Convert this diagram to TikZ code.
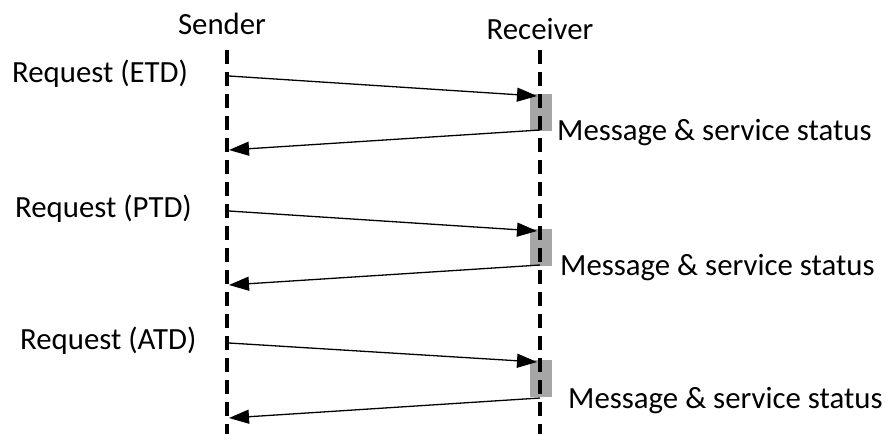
\documentclass[tikz,border=0pt]{standalone}
\usepackage{fontspec}
\setmainfont{Carlito}
\usetikzlibrary{arrows.meta}
\begin{document}
\begin{tikzpicture}[x=1pt,y=-1pt,
  lifeline/.style={line width=4pt,dash pattern=on 14pt off 8pt},
  msg/.style={line width=1.3pt,-{Triangle[length=20pt,width=14pt]}},
  act/.style={fill=black!35,draw=none},
  lbl/.style={font=\fontsize{30.8}{36}\selectfont,inner sep=0pt}]
\useasboundingbox (0,0) rectangle (885,434);
% lifelines
\coordinate (s0) at (227,50);  \coordinate (s1) at (227,434);
\coordinate (r0) at (540,50);  \coordinate (r1) at (540,434);
\node[lbl] (sender) at (222,24) {Sender};
\node[lbl] (receiver) at (540,29) {Receiver};
% activation boxes (behind the lifeline)
\foreach \i/\y in {1/94,2/229,3/360}{
  \node[act,minimum width=22pt,minimum height=37pt,anchor=north,inner sep=0pt] (box\i) at (541,\y) {};
}
\draw[lifeline] (s0) -- (s1);
\draw[lifeline] (r0) -- (r1);
% request / response pairs
\foreach \i/\a/\b/\c/\d/\tag/\lx/\mx/\my in {
  1/76/96/130/150/ETD/12/557/133,
  2/211/231/265/285/PTD/15/560/268,
  3/343/362/398/418/ATD/20/568/401}{
  \coordinate (rq\i) at (229,\a);
  \coordinate (rr\i) at (537,\b);
  \coordinate (ps\i) at (540,\c);
  \coordinate (pr\i) at (229,\d);
  \draw[msg] (rq\i) -- (rr\i);
  \draw[msg] (ps\i) -- (pr\i);
  \node[lbl,anchor=west] (req\i) at (\lx,\a-2) {Request (\tag)};
  \node[lbl,anchor=west] (st\i) at (\mx,\my) {Message \& service status};
}
\end{tikzpicture}
\end{document}
